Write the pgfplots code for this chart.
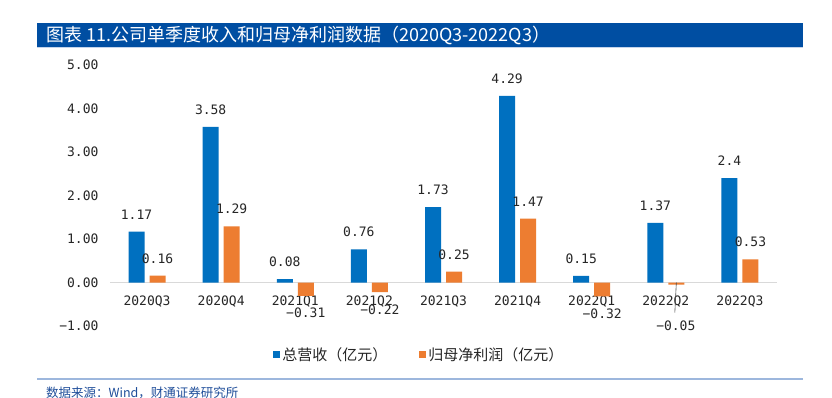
\documentclass[border=0pt]{standalone}
\usepackage{fontspec}
\usepackage{pgfplots}
\pgfplotsset{compat=1.18}
\usepackage{pgfplotstable}
\setmainfont{DejaVu Sans Mono}
\newfontfamily\cjk{Noto Sans CJK SC}
\newfontfamily\numfont{DejaVu Sans Mono}
\definecolor{barblue}{HTML}{0070C0}
\definecolor{barorange}{HTML}{ED7D31}
\definecolor{titleblue}{HTML}{004EA2}
\definecolor{srcblue}{HTML}{1F4E9A}
\definecolor{lineblue}{HTML}{9DB7DD}

\pgfplotstableread{
x rev revlab prof proflab
0 1.17 1.17 0.16 0.16
1 3.58 3.58 1.29 1.29
2 0.08 0.08 -0.31 −0.31
3 0.76 0.76 -0.22 −0.22
4 1.73 1.73 0.25 0.25
5 4.29 4.29 1.47 1.47
6 0.15 0.15 -0.32 −0.32
7 1.37 1.37 -0.05 {}
8 2.40 2.4 0.53 0.53
}\datatable

\begin{document}
\begin{tikzpicture}
\path[use as bounding box] (0pt,0pt) rectangle (832pt,397pt);
\fill[white] (0pt,0pt) rectangle (832pt,397pt);
% title bar
\fill[titleblue] (37pt,350pt) rectangle (803pt,374pt);
\draw[lineblue!60, line width=0.8pt] (37pt,349.6pt) -- (803pt,349.6pt);
\node[anchor=west, text=white, inner sep=0pt] at (46pt,362pt)
  {\cjk\fontsize{18}{21}\selectfont 图表 11.公司单季度收入和归母净利润数据（2020Q3-2022Q3）};
% footer
\draw[lineblue, line width=1.5pt] (37pt,18pt) -- (803pt,18pt);
\node[anchor=west, text=srcblue, inner sep=0pt] at (46pt,4pt)
  {\cjk\fontsize{12.5}{14}\selectfont 数据来源：Wind，财通证券研究所};

\begin{axis}[
  at={(110pt,71pt)}, anchor=south west,
  scale only axis, width=667pt, height=261pt,
  ybar=5pt, bar width=16pt,
  xmin=-0.5, xmax=8.5, ymin=-1, ymax=5,
  clip=false,
  axis x line*=middle, axis y line*=left,
  x axis line style={draw=black!15, line width=0.8pt},
  y axis line style={draw=none},
  xtick={0,...,8},
  xticklabels={2020Q3,2020Q4,2021Q1,2021Q2,2021Q3,2021Q4,2022Q1,2022Q2,2022Q3},
  ytick={-1,0,1,2,3,4,5},
  yticklabels={−1.00,0.00,1.00,2.00,3.00,4.00,5.00},
  xtick style={draw=none}, ytick style={draw=none},
  tick label style={font=\numfont\fontsize{13}{15}\selectfont, text=black!85},
  xticklabel style={yshift=-6pt},
  yticklabel style={xshift=-8pt},
  nodes near coords style={font=\numfont\fontsize{13}{15}\selectfont, text=black!85, outer ysep=9pt},
  legend columns=2,
  legend style={at={(0.464,-0.111)}, anchor=center, draw=none, fill=none,
    font=\cjk\fontsize{15}{17}\selectfont, text=black!85,
    /tikz/every even column/.append style={column sep=30pt}},
]
\addplot[ybar, fill=barblue, draw=none, nodes near coords, point meta=explicit symbolic,
  legend image code/.code={\fill[barblue] (0pt,-3.5pt) rectangle (7pt,3.5pt);}]
  table[x=x, y=rev, meta=revlab] {\datatable};
\addlegendentry{总营收（亿元）}
\addplot[ybar, fill=barorange, draw=none, nodes near coords, point meta=explicit symbolic,
  visualization depends on={rawy \as \rawy},
  every node near coord/.append style={anchor=\ifdim \rawy pt<0pt north\else south\fi},
  legend image code/.code={\fill[barorange] (0pt,-3.5pt) rectangle (7pt,3.5pt);}]
  table[x=x, y=prof, meta=proflab] {\datatable};
\addlegendentry{归母净利润（亿元）}
\draw[black!70, line width=0.6pt] ([xshift=10.5pt]axis cs:7,0) -- ([xshift=9pt]axis cs:7,-0.69);
\node[font=\numfont\fontsize{13}{15}\selectfont, text=black!85] at ([xshift=10pt]axis cs:7,-0.99) {−0.05};
\end{axis}
\end{tikzpicture}
\end{document}
